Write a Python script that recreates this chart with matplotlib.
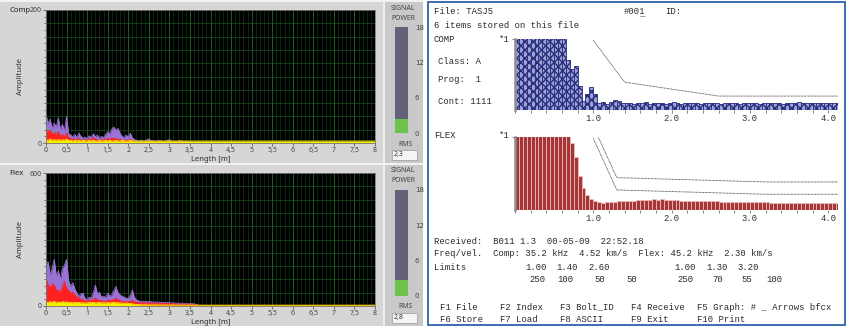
import numpy as np
import matplotlib
matplotlib.use("Agg")
from matplotlib import pyplot as plt
from matplotlib.patches import Rectangle
from matplotlib.ticker import FixedLocator, MultipleLocator, FuncFormatter

W, H = 846, 326

# live spectra: 0..4 m every 0.05 m, then a coarse tail out to 8 m
head_x = np.round(np.arange(0, 4.001, 0.05), 2)
tail_x = [4.5, 5.0, 5.5, 6.0, 6.5, 7.0, 7.5, 8.0]

comp_purple = [43, 30, 36, 22, 30, 24, 38, 20, 28, 18, 40, 14, 12, 9, 13, 8, 15, 10, 7, 9,
               6, 11, 8, 14, 9, 12, 7, 10, 8, 13, 17, 14, 21, 24, 19, 22, 15, 10, 8, 12,
               9, 15, 8, 5, 4, 3, 4, 3, 3, 5, 6, 4, 3, 3, 2, 4, 3, 2, 3, 4,
               5, 3, 2, 3, 2, 4, 3, 2, 2, 2, 1.5, 1.2, 1, 1.3, 1, 1.2, 1, 1, 1.2, 1, 1]
comp_purple_tail = [1, 1, 1, 1, 1, 1, 1, 1]
comp_red = [22, 18, 20, 14, 16, 12, 18, 10, 13, 9, 15, 8, 7, 5, 6, 4, 7, 5, 4, 5,
            4, 6, 5, 8, 6, 5, 4, 5, 4, 6, 7, 5, 8, 6, 7, 5, 6, 4, 3, 5,
            4, 6, 3, 2.5, 2.5, 2, 2.5, 2, 2, 2.5, 3, 2.5, 2, 2, 1.5, 2, 2, 1.5, 2, 2,
            2.5, 2, 1.5, 2, 1.5, 2, 1.5, 1.5, 1.5, 1.5, 1.2, 1.2, 1.2, 1.2, 1.2, 1.2, 1.2, 1.2, 1.2, 1.2, 1.2]
comp_red_tail = [1.2, 1.2, 1.2, 1.2, 1.2, 1.2, 1.2, 1.2]
comp_cyan = [25, 18, 22, 14, 17, 11, 20, 9, 12, 8, 14, 5, 4, 3, 4, 3, 4, 3, 3, 3, 3]
comp_green = [18, 14, 16, 10, 12, 8, 14, 7, 9, 6, 10, 4, 3, 3, 3, 2, 3, 2, 2, 2, 2]
comp_orange = [12, 10, 11, 8, 9, 7, 10, 6, 8, 5, 8, 4, 4, 3, 3, 3, 3, 3, 3, 3, 3]
comp_yellow = [5, 4, 6, 4, 5, 4, 5, 4, 5, 4, 6, 4, 4, 3, 4, 3, 4, 3, 4, 3,
               3, 4, 3, 4, 3, 3, 4, 3, 3, 4, 3, 4, 3, 3, 4, 3, 3, 4, 3, 3,
               3, 4, 3, 3, 3, 3, 3, 3, 3, 3, 3, 3, 3, 3, 3, 3, 3, 3, 3, 3,
               3, 3, 3, 3, 3, 3, 3, 3, 3, 3, 3, 3, 3, 3, 3, 3, 3, 3, 3, 3, 3]
comp_yellow_tail = [3, 3, 3, 3, 3, 3, 3, 3]

flex_purple = [185, 200, 140, 170, 210, 135, 160, 120, 170, 185, 210, 115, 88, 105, 78, 60, 42, 55, 58, 35,
               28, 40, 35, 60, 95, 55, 62, 40, 45, 38, 58, 45, 50, 70, 88, 62, 50, 45, 40, 36,
               34, 48, 72, 40, 27, 24, 20, 22, 19, 21, 18, 20, 17, 19, 16, 18, 15, 17, 14, 16,
               15, 13, 15, 12, 14, 11, 13, 12, 10, 12, 10, 11, 9, 8, 3, 2, 2, 1.5, 2, 1.5, 2]
flex_purple_tail = [1.5, 1.5, 1.5, 1.5, 1.5, 1.5, 1.5, 1.5]
flex_red = [125, 95, 80, 100, 95, 70, 72, 60, 88, 110, 80, 70, 57, 62, 50, 42, 35, 30, 28, 25,
            23, 27, 25, 30, 35, 28, 26, 22, 24, 20, 27, 24, 26, 30, 35, 28, 24, 22, 20, 19,
            20, 22, 25, 18, 16, 15, 14, 15, 13, 14, 15, 13, 12, 13, 12, 11, 12, 11, 10, 11,
            12, 10, 9, 10, 9, 9, 8, 9, 8, 8, 9, 8, 7, 6, 3, 2, 2, 1.5, 1.5, 1.5, 1.5]
flex_red_tail = [1.5, 1.5, 1.5, 1.5, 1.5, 1.5, 1.5, 1.5]
flex_cyan = [60, 50, 45, 55, 50, 40, 45, 35, 70, 100, 60, 30, 20, 18, 15, 12, 10, 9, 8, 8, 7]
flex_green = [50, 40, 55, 45, 60, 35, 40, 30, 45, 50, 35, 25, 18, 15, 12, 10, 9, 8, 8, 7, 7]
flex_orange = [45, 38, 40, 35, 42, 30, 35, 28, 38, 45, 32, 25, 20, 18, 16, 15, 14, 13, 12, 12, 12]
flex_yellow = [18, 15, 20, 16, 22, 14, 18, 15, 20, 17, 19, 15, 16, 14, 17, 15, 16, 14, 15, 13,
               14, 16, 15, 17, 14, 15, 16, 14, 15, 13, 16, 14, 15, 17, 14, 15, 13, 14, 12, 13,
               12, 11, 10, 8, 7, 6, 6, 5, 6, 5, 5, 5, 5, 5, 5, 4, 5, 4, 5, 4,
               4, 5, 4, 4, 4, 4, 4, 4, 4, 4, 4, 4, 4, 4, 4, 4, 4, 4, 4, 4, 4]
flex_yellow_tail = [4, 4, 4, 4, 4, 4, 4, 4]

comp_rms = 2.3
flex_rms = 2.8

# stored item, bar per 0.05 m, same units as the limit values
comp_bars = [300, 300, 300, 300, 300, 300, 300, 300, 300, 300, 300, 300, 300,
             178, 147, 159, 87, 34, 58, 82, 58, 25, 27, 22, 29, 37, 32, 25,
             24, 26, 23, 25, 24, 27, 23, 25, 26, 24, 23, 25, 27, 24, 23, 26,
             25, 24, 26, 23, 25, 24, 26, 25, 23, 24, 26, 25, 24, 23, 25, 26,
             24, 25, 23, 24, 26, 25, 24, 25, 23, 24, 25, 26, 27, 25, 24, 26,
             25, 24, 26, 25, 24, 25, 24]
flex_bars = [300, 300, 300, 300, 300, 300, 300, 300, 300, 300, 300, 300, 300, 300,
             235, 184, 120, 77, 51, 38, 31, 27, 26, 27, 28, 29, 30, 31, 31, 32,
             33, 34, 35, 36, 36, 37, 36, 37, 36, 36, 35, 34, 33, 33, 32, 32,
             31, 31, 31, 30, 30, 30, 29, 29, 29, 29, 28, 28, 28, 28, 27, 27,
             27, 27, 27, 26, 26, 26, 26, 26, 25, 25, 25, 25, 25, 24, 24, 24,
             24, 23, 23, 23, 23]
comp_limit_x = [1.00, 1.40, 2.60]
comp_limit_v = [250, 100, 50, 50]
flex_limit_x = [1.00, 1.30, 3.20]
flex_limit_v = [250, 70, 55, 100]
flex_warn_offset = 43

for name, arr in [("comp_purple", comp_purple), ("comp_red", comp_red), ("comp_yellow", comp_yellow),
                  ("flex_purple", flex_purple), ("flex_red", flex_red), ("flex_yellow", flex_yellow)]:
    if len(arr) != len(head_x):
        raise ValueError(f"{name}: {len(arr)}")

MONO = "Liberation Mono"
UI = "Noto Sans"

fig = plt.figure(figsize=(W / 100, H / 100), dpi=100)
fig.patch.set_facecolor("white")


def rect(x0, y0, x1, y1):
    return [x0 / W, 1 - y1 / H, (x1 - x0) / W, (y1 - y0) / H]


def put(x, y, s, **kw):
    kw.setdefault("va", "center")
    kw.setdefault("ha", "left")
    fig.text(x / W, 1 - y / H, s, **kw)


def box(x0, y0, x1, y1, **kw):
    fig.add_artist(Rectangle((x0 / W, 1 - y1 / H), (x1 - x0) / W, (y1 - y0) / H,
                             transform=fig.transFigure, **kw))


def comma(v, _pos):
    return f"{v:g}".replace(".", ",")


def draw_live(top, label, ymax, traces, rms):
    box(0, top, 384, top + 163, facecolor="#d6d6d6", edgecolor="none", zorder=0)
    box(384, top, 423, top + 163, facecolor="#c9c9c9", edgecolor="none", zorder=0)
    box(383, top, 385, top + 163, facecolor="#eeeeee", edgecolor="none", zorder=0)
    box(0, top, 423, top + 1.5, facecolor="#f2f2f2", edgecolor="none", zorder=0)

    ax = fig.add_axes(rect(46, top + 10, 375, top + 143))
    ax.set_facecolor("black")
    ax.set_xlim(0, 8)
    ax.set_ylim(0, ymax)
    for gx in np.arange(0.1, 8, 0.1):
        major = abs(gx * 2 - round(gx * 2)) < 1e-6
        ax.axvline(gx, color="#23702a" if major else "#0f3614", lw=0.6 if major else 0.5, zorder=0.5)
    for gy in np.arange(1, 10) * ymax / 10:
        ax.axhline(gy, color="#1a5220", lw=0.5, zorder=0.5)

    for xs, ys, color in traces:
        ax.fill_between(xs, 0, ys, color=color, lw=0, zorder=2)
        ax.plot(xs, ys, color=color, lw=0.6, zorder=2)

    ax.xaxis.set_major_locator(MultipleLocator(0.5))
    ax.xaxis.set_major_formatter(FuncFormatter(comma))
    ax.yaxis.set_major_locator(FixedLocator([0, ymax]))
    ax.yaxis.set_minor_locator(MultipleLocator(ymax / 20))
    ax.tick_params(which="both", direction="out", length=2, width=0.5, colors="#444444",
                   labelsize=5, pad=1)
    ax.tick_params(which="minor", length=1.2)
    for sp in ax.spines.values():
        sp.set_color("#7a7a7a")
        sp.set_linewidth(0.6)
    ax.set_xlabel("Length [m]", fontsize=5.5, family=UI, color="#303030", labelpad=1)
    ax.set_ylabel("Amplitude", fontsize=5.5, family=UI, color="#303030", labelpad=4)
    for t in ax.get_xticklabels() + ax.get_yticklabels():
        t.set_family(UI)
    put(9, top + 10, label, fontsize=5.5, weight="bold", family=UI, color="#202020")

    # signal power gauge
    put(403, top + 8, "SIGNAL", fontsize=5, family=UI, ha="center", color="#444444")
    put(403, top + 18, "POWER", fontsize=5, family=UI, ha="center", color="#444444")
    g = fig.add_axes(rect(395, top + 27, 408, top + 133))
    g.set_facecolor("#626379")
    g.bar(0, rms, width=1, color="#6cc24a", align="center")
    g.set_xlim(-0.5, 0.5)
    g.set_ylim(0, 18)
    g.set_xticks([])
    g.set_yticks([0, 6, 12, 18])
    g.yaxis.tick_right()
    g.tick_params(length=0, labelsize=5, pad=5, colors="#444444")
    for sp in g.spines.values():
        sp.set_visible(False)
    put(405, top + 144, "RMS", fontsize=5, family=UI, ha="center", color="#444444")
    box(392, top + 150, 417, top + 160, facecolor="#f4f4f4", edgecolor="#9a9a9a", lw=0.5, zorder=1)
    put(394, top + 155, f"{rms:.1f}".replace(".", ","), fontsize=5, family=UI, color="#333333")


def series(head, tail=None):
    if tail is None:
        return head_x[:len(head)], head
    return np.concatenate([head_x, tail_x]), np.concatenate([head, tail])


draw_live(0, "Comp", 200, [
    (*series(comp_purple, comp_purple_tail), "#9a72d4"),
    (*series(comp_cyan), "#2fc8d8"),
    (*series(comp_green), "#3cb043"),
    (*series(comp_orange), "#ff8c1a"),
    (*series(comp_red, comp_red_tail), "#ff2020"),
    (*series(comp_yellow, comp_yellow_tail), "#f2f200"),
], comp_rms)
draw_live(163, "Flex", 600, [
    (*series(flex_purple, flex_purple_tail), "#9a72d4"),
    (*series(flex_cyan), "#2fc8d8"),
    (*series(flex_green), "#3cb043"),
    (*series(flex_orange), "#ff8c1a"),
    (*series(flex_red, flex_red_tail), "#ff2020"),
    (*series(flex_yellow, flex_yellow_tail), "#f2f200"),
], flex_rms)

# stored-file view
box(428, 2, 845, 325, facecolor="white", edgecolor="#3d6db5", lw=1.4, zorder=0)

XMAX = 4.125


def draw_stored(y0, y1, bars, face, edge, hatch, limit_x, limit_v, warn=None):
    ax = fig.add_axes(rect(515, y0, 838, y1))
    ax.set_facecolor("none")
    ax.set_xlim(0, XMAX)
    ax.set_ylim(0, 255)
    ax.bar(np.arange(len(bars)) * 0.05, bars, width=0.05, align="edge",
           facecolor=face, edgecolor=edge, hatch=hatch, lw=0.6, zorder=2)
    lx = list(limit_x) + [XMAX]
    lv = list(limit_v[:3]) + [limit_v[2]]
    ax.plot(lx, lv, color="#3a3a3a", lw=0.6, ls=(0, (1, 0.7)), zorder=3)
    if warn is not None:
        ax.plot(lx, np.array(lv) + warn, color="#3a3a3a", lw=0.6, ls=(0, (1, 0.7)), zorder=3)
    ax.xaxis.set_major_locator(FixedLocator([1, 2, 3, 4]))
    ax.xaxis.set_major_formatter(FuncFormatter(lambda v, p: f"{v:.1f}"))
    ax.xaxis.set_minor_locator(MultipleLocator(0.2))
    ax.set_yticks([255])
    ax.set_yticklabels([])
    ax.tick_params(which="both", direction="out", length=2, width=0.5, colors="#555555",
                   labelsize=6.4, pad=1)
    for t in ax.get_xticklabels():
        t.set_family(MONO)
        t.set_color("#333333")
    for side in ("top", "right", "bottom"):
        ax.spines[side].set_visible(False)
    ax.spines["left"].set_color("#8e8e8e")
    ax.spines["left"].set_linewidth(1.8)


draw_stored(39, 110, comp_bars, "#9ea3d4", "#262b7e", "xxxx", comp_limit_x, comp_limit_v)
draw_stored(137, 210, flex_bars, "#a63535", "#ecbcbc", None, flex_limit_x, flex_limit_v,
            warn=flex_warn_offset)

mono = dict(family=MONO, fontsize=6.4, color="#2a2a2a")
put(434, 12, "File: TASJ5", **mono)
put(624, 12, "#001", **mono)
put(624, 13, "   _", **mono)
put(665, 12, "ID:", **mono)
put(434, 26, "6 items stored on this file", **mono)
put(434, 39, "COMP", **mono)
put(499, 39, "*1", **mono)
put(438, 61, "Class: A", **mono)
put(438, 80, "Prog:  1", **mono)
put(438, 101, "Cont: 1111", **mono)
put(434, 135, "FLEX", **mono)
put(499, 135, "*1", **mono)

put(434, 241, "Received:  B011 1.3  00-05-09  22:52.18", **mono)
put(434, 254, "Freq/vel.  Comp: 35.2 kHz  4.52 km/s  Flex: 45.2 kHz  2.30 km/s", **mono)
put(434, 267, "Limits", **mono)
for x, v in zip([525, 556, 588], comp_limit_x):
    put(x, 267, f"{v:.2f}", **mono)
for x, v in zip([674, 706, 737], flex_limit_x):
    put(x, 267, f"{v:.2f}", **mono)
for x, v in zip([529, 557, 594, 626], comp_limit_v):
    put(x, 280, f"{v}", **mono)
for x, v in zip([677, 712, 741, 766], flex_limit_v):
    put(x, 280, f"{v}", **mono)

for x, s in zip([440, 500, 560, 631, 697],
                ["F1 File", "F2 Index", "F3 Bolt_ID", "F4 Receive", "F5 Graph: # _ Arrows bfcx"]):
    put(x, 307, s, **mono)
for x, s in zip([440, 500, 560, 631, 697],
                ["F6 Store", "F7 Load", "F8 ASCII", "F9 Exit", "F10 Print"]):
    put(x, 320, s, **mono)

fig.savefig("out.png", dpi=100, facecolor=fig.get_facecolor())
